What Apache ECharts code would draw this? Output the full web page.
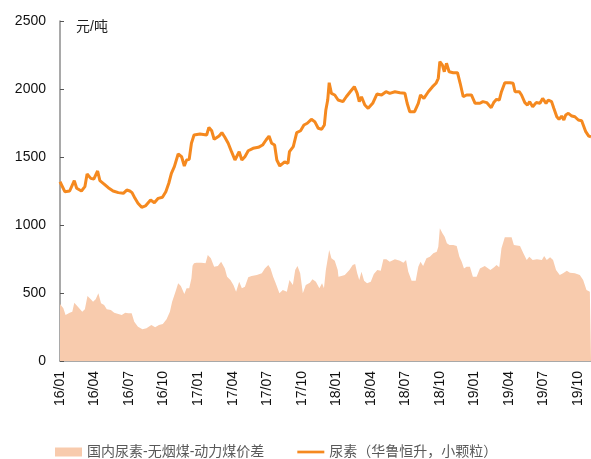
<!DOCTYPE html>
<html>
<head>
<meta charset="utf-8">
<script src="https://cdn.jsdelivr.net/npm/echarts@6/dist/echarts.min.js"></script>
<style>
  html, body { margin: 0; padding: 0; background: #fff; }
  #chart { width: 591px; height: 459px; }
</style>
</head>
<body>
<div id="chart"></div>
<script>
// 季度刻度标签
var xTickLabels = ['16/01', '16/04', '16/07', '16/10', '17/01', '17/04', '17/07', '17/10',
  '18/01', '18/04', '18/07', '18/10', '19/01', '19/04', '19/07', '19/10'];
var endDate = '2019-11-05';

var seriesNames = ['国内尿素-无烟煤-动力煤价差', '尿素（华鲁恒升，小颗粒）'];

// 价差 (元/吨)
var spreadDates = [
  '2016-01-01', '2016-01-10', '2016-01-16', '2016-01-27', '2016-02-03', '2016-02-08', '2016-02-17', '2016-02-28',
  '2016-03-06', '2016-03-13', '2016-03-22', '2016-03-28', '2016-04-04', '2016-04-11', '2016-04-18', '2016-04-26',
  '2016-05-03', '2016-05-14', '2016-05-23', '2016-06-03', '2016-06-12', '2016-06-21', '2016-06-29', '2016-07-08',
  '2016-07-15', '2016-07-25', '2016-08-06', '2016-08-17', '2016-08-30', '2016-09-09', '2016-09-19', '2016-09-29',
  '2016-10-09', '2016-10-18', '2016-10-24', '2016-11-02', '2016-11-09', '2016-11-16', '2016-11-25', '2016-12-01',
  '2016-12-08', '2016-12-14', '2016-12-17', '2016-12-21', '2016-12-27', '2017-01-10', '2017-01-21', '2017-01-27',
  '2017-02-04', '2017-02-12', '2017-02-21', '2017-03-01', '2017-03-05', '2017-03-11', '2017-03-17', '2017-03-26',
  '2017-04-03', '2017-04-10', '2017-04-18', '2017-04-25', '2017-05-03', '2017-05-12', '2017-05-21', '2017-06-04',
  '2017-06-17', '2017-06-25', '2017-07-04', '2017-07-10', '2017-07-17', '2017-07-24', '2017-08-03', '2017-08-12',
  '2017-08-17', '2017-08-23', '2017-08-30', '2017-09-08', '2017-09-14', '2017-09-20', '2017-09-27', '2017-10-04',
  '2017-10-12', '2017-10-23', '2017-10-30', '2017-11-08', '2017-11-17', '2017-11-24', '2017-11-29', '2017-12-04',
  '2017-12-13', '2017-12-19', '2017-12-28', '2018-01-05', '2018-01-07', '2018-01-15', '2018-01-24', '2018-02-05',
  '2018-02-13', '2018-02-19', '2018-02-24', '2018-03-01', '2018-03-07', '2018-03-14', '2018-03-22', '2018-04-01',
  '2018-04-09', '2018-04-18', '2018-04-27', '2018-05-04', '2018-05-12', '2018-05-21', '2018-06-04', '2018-06-17',
  '2018-06-26', '2018-07-03', '2018-07-09', '2018-07-18', '2018-07-29', '2018-08-05', '2018-08-11', '2018-08-18',
  '2018-08-27', '2018-09-05', '2018-09-14', '2018-09-23', '2018-09-27', '2018-10-01', '2018-10-08', '2018-10-14',
  '2018-10-20', '2018-10-27', '2018-11-06', '2018-11-15', '2018-11-22', '2018-11-28', '2018-12-04', '2018-12-11',
  '2018-12-20', '2018-12-28', '2019-01-07', '2019-01-16', '2019-01-29', '2019-02-12', '2019-02-21', '2019-02-27',
  '2019-03-06', '2019-03-12', '2019-03-21', '2019-04-08', '2019-04-14', '2019-04-30', '2019-05-09', '2019-05-18',
  '2019-05-25', '2019-06-03', '2019-06-14', '2019-06-27', '2019-07-03', '2019-07-10', '2019-07-19', '2019-07-27',
  '2019-08-04', '2019-08-14', '2019-08-23', '2019-09-02', '2019-09-10', '2019-09-23', '2019-10-06', '2019-10-15',
  '2019-10-24', '2019-11-02', '2019-11-05'
];
var spreadValue = [
  420, 387, 338, 355, 363, 429, 399, 363,
  380, 478, 454, 436, 454, 498, 424, 412,
  380, 375, 355, 346, 338, 355, 351, 351,
  289, 252, 233, 240, 265, 248, 265, 272,
  307, 363, 436, 510, 571, 551, 493, 535,
  535, 608, 700, 718, 723, 723, 718, 779,
  755, 693, 699, 730, 718, 681, 620, 596,
  559, 510, 583, 535, 546, 615, 625, 632,
  645, 681, 706, 681, 620, 571, 498, 522,
  535, 510, 596, 559, 669, 699, 645, 498,
  559, 576, 601, 583, 535, 571, 535, 669,
  816, 755, 738, 669, 620, 625, 632, 669,
  706, 713, 645, 596, 657, 590, 571, 583,
  640, 669, 664, 748, 748, 730, 748, 738,
  723, 743, 657, 590, 590, 693, 730, 699,
  755, 767, 792, 804, 840, 976, 939, 914,
  865, 853, 853, 846, 767, 730, 681, 693,
  693, 620, 620, 681, 699, 669, 689, 706,
  689, 829, 910, 910, 853, 846, 792, 743,
  767, 743, 748, 743, 772, 743, 762, 743,
  669, 632, 645, 664, 649, 645, 632, 596,
  522, 510, 505
];

// 尿素价格 (元/吨)
var ureaDates = [
  '2016-01-01', '2016-01-14', '2016-01-27', '2016-02-08', '2016-02-14', '2016-02-26', '2016-03-06', '2016-03-12',
  '2016-03-22', '2016-03-30', '2016-04-09', '2016-04-15', '2016-04-26', '2016-05-07', '2016-05-20', '2016-06-03',
  '2016-06-16', '2016-06-25', '2016-07-03', '2016-07-09', '2016-07-17', '2016-07-25', '2016-08-04', '2016-08-14',
  '2016-08-28', '2016-09-07', '2016-09-17', '2016-09-28', '2016-10-07', '2016-10-15', '2016-10-22', '2016-10-30',
  '2016-11-09', '2016-11-18', '2016-11-25', '2016-12-01', '2016-12-08', '2016-12-14', '2016-12-21', '2017-01-06',
  '2017-01-24', '2017-01-30', '2017-02-06', '2017-02-12', '2017-02-24', '2017-03-03', '2017-03-11', '2017-03-20',
  '2017-03-29', '2017-04-07', '2017-04-18', '2017-04-25', '2017-05-03', '2017-05-12', '2017-05-25', '2017-06-08',
  '2017-06-19', '2017-06-28', '2017-07-06', '2017-07-13', '2017-07-21', '2017-07-27', '2017-08-04', '2017-08-17',
  '2017-08-26', '2017-08-30', '2017-09-09', '2017-09-18', '2017-09-28', '2017-10-07', '2017-10-16', '2017-10-27',
  '2017-11-05', '2017-11-14', '2017-11-23', '2017-11-30', '2017-12-04', '2017-12-09', '2017-12-13', '2017-12-19',
  '2017-12-28', '2018-01-06', '2018-01-11', '2018-01-19', '2018-01-28', '2018-02-07', '2018-02-17', '2018-02-24',
  '2018-03-01', '2018-03-07', '2018-03-16', '2018-03-25', '2018-04-06', '2018-04-17', '2018-04-29', '2018-05-11',
  '2018-05-21', '2018-06-04', '2018-06-17', '2018-06-30', '2018-07-06', '2018-07-13', '2018-07-26', '2018-08-05',
  '2018-08-11', '2018-08-20', '2018-09-01', '2018-09-12', '2018-09-21', '2018-09-27', '2018-10-01', '2018-10-08',
  '2018-10-13', '2018-10-19', '2018-10-26', '2018-11-06', '2018-11-17', '2018-11-24', '2018-12-02', '2018-12-11',
  '2018-12-15', '2018-12-24', '2019-01-03', '2019-01-16', '2019-01-24', '2019-02-03', '2019-02-14', '2019-02-20',
  '2019-02-27', '2019-03-06', '2019-03-12', '2019-03-21', '2019-04-04', '2019-04-12', '2019-04-17', '2019-04-28',
  '2019-05-04', '2019-05-13', '2019-05-20', '2019-05-26', '2019-06-03', '2019-06-12', '2019-06-22', '2019-06-29',
  '2019-07-08', '2019-07-14', '2019-07-23', '2019-07-29', '2019-08-06', '2019-08-12', '2019-08-19', '2019-08-25',
  '2019-08-30', '2019-09-06', '2019-09-15', '2019-09-23', '2019-10-02', '2019-10-11', '2019-10-17', '2019-10-22',
  '2019-10-30', '2019-11-05'
];
var ureaPrice = [
  1318, 1245, 1250, 1326, 1270, 1250, 1282, 1375,
  1343, 1338, 1397, 1326, 1301, 1274, 1250, 1238,
  1233, 1257, 1250, 1238, 1196, 1160, 1130, 1140,
  1184, 1164, 1196, 1204, 1245, 1307, 1380, 1429,
  1522, 1502, 1434, 1478, 1483, 1601, 1662, 1669,
  1662, 1718, 1693, 1630, 1654, 1679, 1645, 1601,
  1539, 1478, 1539, 1478, 1502, 1546, 1564, 1571,
  1588, 1625, 1654, 1601, 1588, 1478, 1434, 1465,
  1454, 1539, 1576, 1679, 1693, 1735, 1748, 1777,
  1760, 1711, 1704, 1735, 1846, 1919, 2046, 1968,
  1956, 1919, 1924, 1907, 1943, 1980, 2017, 1968,
  1907, 1943, 1882, 1858, 1895, 1963, 1956, 1980,
  1968, 1980, 1973, 1968, 1895, 1833, 1833, 1895,
  1956, 1931, 1980, 2017, 2042, 2079, 2201, 2176,
  2127, 2189, 2127, 2120, 2120, 2042, 1943, 1956,
  1963, 1956, 1895, 1895, 1907, 1900, 1863, 1900,
  1924, 1919, 1980, 2046, 2046, 2042, 1980, 1980,
  1956, 1900, 1882, 1907, 1870, 1900, 1895, 1931,
  1895, 1919, 1907, 1858, 1796, 1777, 1801, 1772,
  1809, 1821, 1801, 1796, 1772, 1767, 1723, 1686,
  1654, 1649
];

// 日期 -> 距2016年1月的月数
function monthOffset(s) {
  var p = s.split('-');
  var y = +p[0], m = +p[1], d = +p[2];
  var days = new Date(y, m, 0).getDate();
  return (y - 2016) * 12 + (m - 1) + (d - 1) / days;
}
function pairs(dates, vals) {
  return dates.map(function (d, i) { return [monthOffset(d), vals[i]]; });
}

var font = "'Liberation Sans', Arial, 'Noto Sans CJK SC', sans-serif";
var chart = echarts.init(document.getElementById('chart'));

chart.setOption({
  animation: false,
  textStyle: { fontFamily: font },
  grid: { left: 60, right: 0, top: 21, bottom: 98, containLabel: false, outerBoundsMode: 'none' },
  graphic: [{
    type: 'text', left: 76, top: 20,
    style: { text: '元/吨', fill: '#222', font: '14px ' + font }
  }],
  legend: {
    left: 50, top: 440,
    itemWidth: 27, itemHeight: 9, itemGap: 33,
    textStyle: { fontSize: 14, color: '#595959', fontFamily: font },
    data: [
      { name: seriesNames[0], icon: 'rect' },
      // 细线图例 (上下留白保持高度)
      { name: seriesNames[1], icon: 'path://M0,0L0,0M0,3L30,3L30,6L0,6ZM0,9L0,9' }
    ]
  },
  xAxis: {
    type: 'value',
    min: 0,
    max: monthOffset(endDate),
    interval: 3,
    axisLine: { lineStyle: { color: '#8c8c8c', width: 1.5 } },
    axisTick: { inside: true, length: 4, lineStyle: { color: '#555' } },
    splitLine: { show: false },
    axisLabel: {
      rotate: 90, fontSize: 14, color: '#111', margin: 10, showMaxLabel: false,
      formatter: function (v) {
        var i = Math.round(v / 3);
        return Math.abs(v - i * 3) < 1e-6 && xTickLabels[i] ? xTickLabels[i] : '';
      }
    }
  },
  yAxis: {
    type: 'value',
    min: 0, max: 2500, interval: 500,
    axisLine: { show: true, lineStyle: { color: '#8c8c8c', width: 1.5 } },
    axisTick: { show: true, inside: true, length: 4, lineStyle: { color: '#555' } },
    splitLine: { show: false },
    axisLabel: { fontSize: 14, color: '#111', margin: 14, formatter: function (v) { return String(v); } }
  },
  series: [{
    name: seriesNames[0],
    type: 'line',
    data: pairs(spreadDates, spreadValue),
    symbol: 'none',
    lineStyle: { width: 0 },
    itemStyle: { color: '#F8CBAD' },
    areaStyle: { color: '#F8CBAD', opacity: 1 }
  }, {
    name: seriesNames[1],
    type: 'line',
    data: pairs(ureaDates, ureaPrice),
    symbol: 'none',
    lineStyle: { width: 3, color: '#F5891F' },
    itemStyle: { color: '#F5891F' }
  }]
});
</script>
</body>
</html>
